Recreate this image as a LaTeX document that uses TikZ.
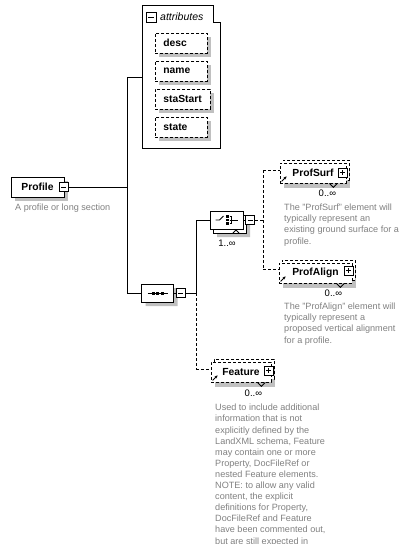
\documentclass[tikz,border=0pt]{standalone}
\usepackage{fontspec}
\setmainfont{Liberation Sans}
\usetikzlibrary{positioning,shapes.misc,shadows,arrows.meta}

\definecolor{descgray}{RGB}{128,128,128}
\definecolor{shadegray}{RGB}{192,192,192}

\tikzset{
	conn/.style={line width=0.8pt},
	dconn/.style={line width=0.8pt, dash pattern=on 3pt off 2pt},
	shade4/.style={drop shadow={shadow xshift=4pt,shadow yshift=-4pt,fill=shadegray,opacity=1}},
	backshade/.style={drop shadow={shadow xshift=1pt,shadow yshift=-8pt,fill=shadegray,opacity=1}},
	elembox/.style={draw, line width=0.8pt, fill=white, minimum height=20pt, inner sep=0pt, font=\bfseries\fontsize{10.3}{12}\selectfont},
	attrbox/.style={elembox, dash pattern=on 3pt off 2pt, anchor=west, align=left, inner xsep=8pt, text width=36pt, shade4},
	refbox/.style={elembox, dash pattern=on 3pt off 2pt},
	minusbox/.style={draw, line width=0.8pt, fill=white, minimum size=9pt, inner sep=0pt,
		path picture={\draw[line width=0.8pt] ([xshift=2pt]path picture bounding box.west) -- ([xshift=-2pt]path picture bounding box.east);}},
	plusbox/.style={draw, line width=0.8pt, fill=white, minimum size=9pt, inner sep=0pt,
		path picture={\draw[line width=0.8pt] ([xshift=2pt]path picture bounding box.west) -- ([xshift=-2pt]path picture bounding box.east)
			([yshift=-2pt]path picture bounding box.north) -- ([yshift=2pt]path picture bounding box.south);}},
	compositor/.style={chamfered rectangle, chamfered rectangle xsep=5pt, chamfered rectangle ysep=5pt, draw, line width=0.8pt, fill=white, minimum height=18pt, inner sep=0pt},
	desc/.style={anchor=north west, align=left, text=descgray, inner sep=0pt, font=\fontsize{9.1}{11.1}\selectfont},
	mult/.style={inner sep=0pt, font=\fontsize{9.5}{11}\selectfont},
}

\begin{document}
\begin{tikzpicture}[x=1pt,y=-1pt]
	\useasboundingbox (0,0) rectangle (415,544);
	\clip (0,0) rectangle (415,544);

	% root element
	\node[elembox, shade4, minimum width=53pt] (profile) at (37.5,187) {Profile};
	\node[minusbox] (profminus) at (63.5,187) {};
	\node[desc] (profdesc) at (15,204) {A profile or long section};

	% first bus
	\coordinate (bus1top) at (127,77);
	\coordinate (bus1bot) at (127,293);
	\coordinate (attrin) at (142,77);
	\draw[conn] (profminus) -- (profminus -| bus1top);
	\draw[conn] (bus1top) -- (bus1bot);
	\draw[conn] (bus1top) -- (attrin);

	% attributes
	\draw[conn] (142,5) -- (213,5) -- (213,22) -- (220,22) -- (220,148) -- (142,148) -- cycle;
	\node[minusbox, minimum size=10pt] (attrminus) at (151,17) {};
	\node[anchor=west, inner sep=0pt, font=\itshape\fontsize{10.5}{12}\selectfont] (attrhead) at (160,17) {attributes};
	\node[attrbox] (desc) at (155,43) {desc};
	\node[attrbox] (name) at (155,71) {name};
	\node[attrbox, text width=39pt] (stastart) at (155,99) {staStart};
	\node[attrbox] (state) at (155,127) {state};

	% sequence
	\node[compositor, shade4, minimum width=32pt] (seq) at (157.5,293) {};
	\draw[conn] ([xshift=-10pt]seq.center) -- ([xshift=10pt]seq.center);
	\foreach \dx in {-4.5,0,4.5}
		\fill ([xshift=\dx pt]seq.center) +(-1.5pt,-1.5pt) rectangle +(1.5pt,1.5pt);
	\node[minusbox] (seqminus) at (180.5,293) {};
	\draw[conn] (bus1bot) -- (seq);
	\draw[conn] (seq) -- (seqminus);

	% second bus
	\coordinate (bus2top) at (196,220);
	\coordinate (bus2mid) at (196,293);
	\coordinate (bus2bot) at (196,369);
	\draw[conn] (seqminus) -- (bus2mid);
	\draw[conn] (bus2top) -- (bus2mid);
	\draw[dconn] (bus2mid) -- (bus2bot);

	% choice
	\node[compositor, shade4, minimum width=33pt] (choiceback) at (229.5,224) {};
	\draw[conn] (233,233) -- ++(3,-3) -- ++(3,3);
	\node[compositor, minimum width=33pt] (choice) at (226.5,220) {};
	\draw[conn] (choice.center) ++(-11,0) -- ++(4,0) -- ++(4,-4);
	\foreach \dy in {-3.5,0,3.5}
		\fill ([shift={(1pt,\dy pt)}]choice.center) +(-1.2pt,-1.2pt) rectangle +(1.2pt,1.2pt);
	\draw[conn] (choice.center) ++(3,-3.5) -- ++(2,0) -- ++(0,7) -- ++(-2,0);
	\draw[conn] (choice.center) ++(3,0) -- ++(8,0);
	\node[minusbox] (choiceminus) at (250,220) {};
	\node[mult] (choicemult) at (227,243) {1..∞};
	\draw[conn] (bus2top) -- (choice);
	\draw[conn] (choice) -- (choiceminus);

	% third bus
	\coordinate (bus3top) at (263,170);
	\coordinate (bus3mid) at (263,220);
	\coordinate (bus3bot) at (263,269);
	\draw[dconn] (choiceminus) -- (bus3mid);
	\draw[dconn] (bus3top) -- (bus3bot);

	% ProfSurf
	\node[refbox, backshade, minimum width=66pt] (profsurfback) at (316,170) {};
	\node[refbox, minimum width=66pt] (profsurf) at (313,173) {ProfSurf};
	\node[plusbox] (profsurfplus) at (342.5,172.5) {};
	\draw[dconn] (bus3top) -- (bus3top -| profsurf.west);
	\draw[conn, -{Stealth[length=3pt,width=3pt]}] ([shift={(2pt,2pt)}]profsurf.south west) -- ++(5pt,5pt);
	\draw[conn] ([xshift=-17pt]profsurf.south east) -- ++(4pt,-4pt) -- ++(4pt,4pt);
	\node[mult] (profsurfmult) at ([xshift=-19pt,yshift=-10pt]profsurf.south east) {0..∞};
	\node[desc] (profsurfdesc) at (284,204) {The "ProfSurf" element will\\typically represent an\\existing ground surface for a\\profile.};

	% ProfAlign
	\node[refbox, backshade, minimum width=73pt] (profalignback) at (318.5,270) {};
	\node[refbox, minimum width=73pt] (profalign) at (315.5,273) {ProfAlign};
	\node[plusbox] (profalignplus) at (348.5,270.5) {};
	\draw[dconn] (bus3bot) -- (bus3bot -| profalign.west);
	\draw[conn, -{Stealth[length=3pt,width=3pt]}] ([shift={(2pt,2pt)}]profalign.south west) -- ++(5pt,5pt);
	\draw[conn] ([xshift=-16pt]profalign.south east) -- ++(4pt,-4pt) -- ++(4pt,4pt);
	\node[mult] (profalignmult) at ([xshift=-19pt,yshift=-10pt]profalign.south east) {0..∞};
	\node[desc] (profaligndesc) at (284,303) {The "ProfAlign" element will\\typically represent a\\proposed vertical alignment\\for a profile.};

	% Feature
	\node[refbox, backshade, minimum width=60pt] (featureback) at (244,369) {};
	\node[refbox, minimum width=60pt] (feature) at (241,372) {Feature};
	\node[plusbox] (featureplus) at (268.5,370.5) {};
	\draw[dconn] (bus2bot) -- (bus2bot -| feature.west);
	\draw[conn, -{Stealth[length=3pt,width=3pt]}] ([shift={(2pt,2pt)}]feature.south west) -- ++(5pt,5pt);
	\draw[conn] ([xshift=-14pt]feature.south east) -- ++(4pt,-4pt) -- ++(4pt,4pt);
	\node[mult] (featuremult) at ([xshift=-18pt,yshift=-11pt]feature.south east) {0..∞};
	\node[desc] (featuredesc) at (215,404) {Used to include additional\\information that is not\\explicitly defined by the\\LandXML schema, Feature\\may contain one or more\\Property, DocFileRef or\\nested Feature elements.\\NOTE: to allow any valid\\content, the explicit\\definitions for Property,\\DocFileRef and Feature\\have been commented out,\\but are still expected in};
\end{tikzpicture}
\end{document}
